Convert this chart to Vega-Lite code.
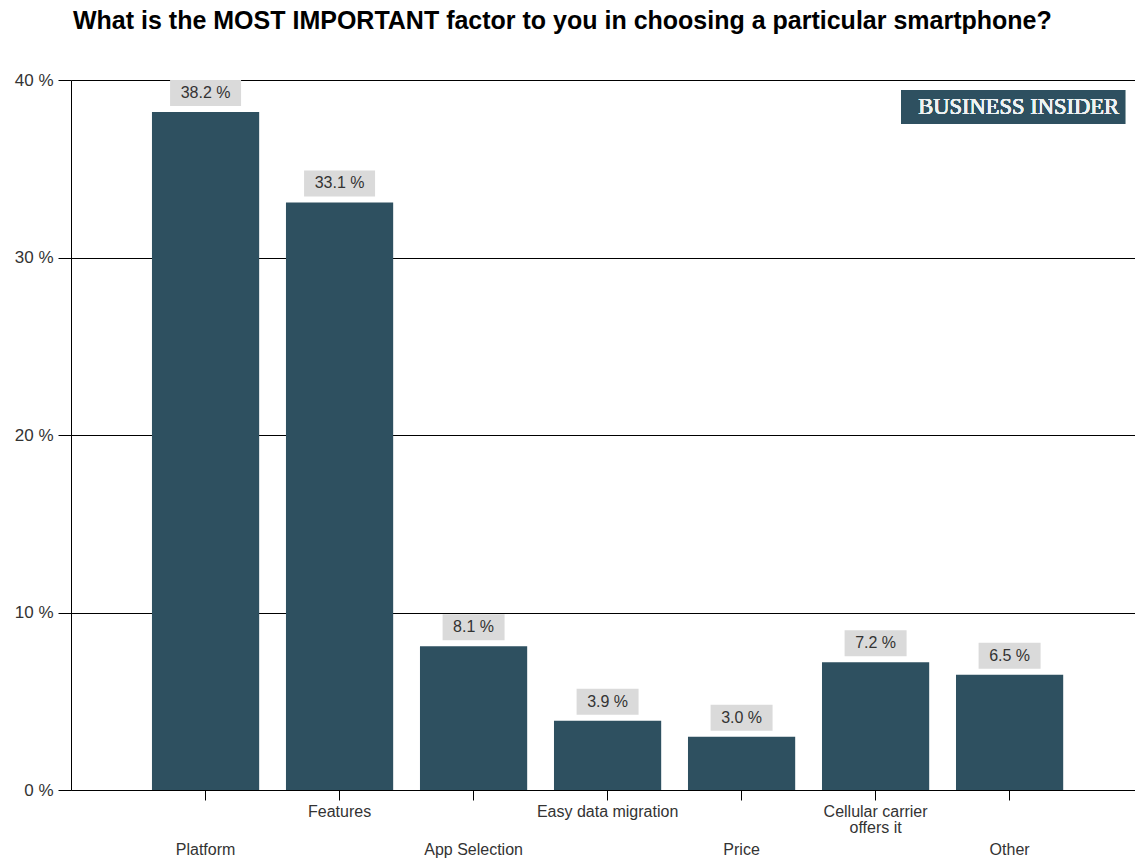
{
  "$schema": "https://vega.github.io/schema/vega-lite/v6.json",
  "width": 1064,
  "height": 710,
  "autosize": "none",
  "padding": {"left": 71, "top": 80, "right": 0, "bottom": 68},
  "background": "white",
  "title": {
    "text": "What is the MOST IMPORTANT factor to you in choosing a particular smartphone?",
    "anchor": "start",
    "frame": "group",
    "font": "Liberation Sans",
    "fontSize": 25,
    "fontWeight": "bold",
    "color": "#000000",
    "offset": 37,
    "dx": 2
  },
  "config": {
    "view": {"stroke": null},
    "axis": {
      "labelFont": "Liberation Sans",
      "labelColor": "#333333",
      "labelFontSize": 16,
      "domainColor": "#000000",
      "tickColor": "#000000",
      "title": null
    }
  },
  "data": {
    "values": [
      {"factor": "Platform", "value": 38.2},
      {"factor": "Features", "value": 33.1},
      {"factor": "App Selection", "value": 8.1},
      {"factor": "Easy data migration", "value": 3.9},
      {"factor": "Price", "value": 3.0},
      {"factor": "Cellular carrier offers it", "value": 7.2},
      {"factor": "Other", "value": 6.5}
    ]
  },
  "layer": [
    {
      "mark": {"type": "bar", "color": "#2e5060"},
      "encoding": {
        "x": {
          "field": "factor",
          "type": "nominal",
          "sort": null,
          "scale": {
            "domain": ["Platform", "Features", "App Selection", "Easy data migration", "Price", "Cellular carrier offers it", "Other"],
            "paddingInner": 0.2,
            "paddingOuter": 0.57,
            "align": 0.53
          },
          "axis": {
            "labelAngle": 0,
            "tickSize": 10,
            "labelBaseline": "top",
            "labelPadding": {
              "condition": {"test": "indexof(['Platform','App Selection','Price','Other'], datum.value) >= 0", "value": 41},
              "value": 3
            },
            "labelLineHeight": 16.5,
            "labelExpr": "datum.value == 'Cellular carrier offers it' ? ['Cellular carrier', 'offers it'] : datum.value"
          }
        },
        "y": {
          "field": "value",
          "type": "quantitative",
          "scale": {"domain": [0, 40], "nice": false},
          "axis": {
            "values": [0, 10, 20, 30, 40],
            "grid": true,
            "gridColor": "#000000",
            "gridOpacity": 1,
            "tickSize": 13,
            "labelPadding": 5,
            "labelFontSize": 17,
            "labelExpr": "datum.value + ' %'"
          }
        }
      }
    },
    {
      "mark": {"type": "point", "filled": true, "color": "#dadada", "opacity": 1, "strokeWidth": 0, "size": 5041},
      "encoding": {
        "x": {"field": "factor", "type": "nominal", "sort": null},
        "y": {"field": "value", "type": "quantitative"},
        "shape": {
          "condition": {"test": "datum.value >= 10", "value": "M-1,-0.901L1,-0.901L1,-0.169L-1,-0.169Z"},
          "value": "M-0.873,-0.901L0.873,-0.901L0.873,-0.169L-0.873,-0.169Z"
        }
      }
    },
    {
      "transform": [{"calculate": "format(datum.value, '.1f') + ' %'", "as": "label"}],
      "mark": {"type": "text", "font": "Liberation Sans", "fontSize": 16, "color": "#333333", "dy": -19, "baseline": "middle"},
      "encoding": {
        "x": {"field": "factor", "type": "nominal", "sort": null},
        "y": {"field": "value", "type": "quantitative"},
        "text": {"field": "label"}
      }
    },
    {
      "mark": {"type": "bar", "width": 224, "color": "#2e5060", "xOffset": 3.5},
      "encoding": {
        "x": {"datum": "Other"},
        "y": {"datum": 39.44, "type": "quantitative"},
        "y2": {"datum": 37.52}
      }
    },
    {
      "mark": {"type": "text", "font": "Liberation Serif", "fontSize": 22.5, "color": "#eef2f3", "dx": 9, "baseline": "middle"},
      "encoding": {
        "x": {"datum": "Other"},
        "y": {"datum": 38.48, "type": "quantitative"},
        "text": {"value": "BUSINESS INSIDER"}
      }
    }
  ]
}
